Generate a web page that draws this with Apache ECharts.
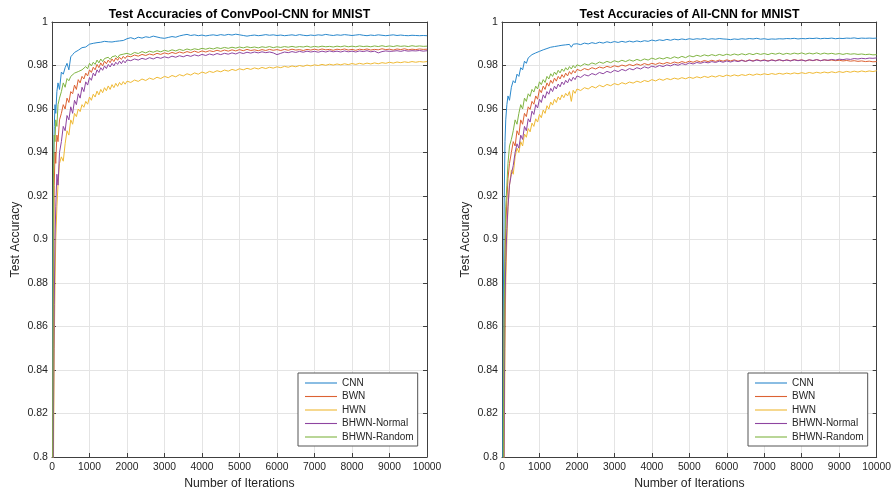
<!DOCTYPE html>
<html>
<head>
<meta charset="utf-8">
<script src="https://cdn.jsdelivr.net/npm/echarts@6/dist/echarts.min.js"></script>
<style>
html,body{margin:0;padding:0;background:#fff;}
#chart{width:894px;height:495px;}
</style>
</head>
<body>
<div id="chart"></div>
<script>
// ---------------- DATA ----------------
const titles = ['Test Accuracies of ConvPool-CNN for MNIST', 'Test Accuracies of All-CNN for MNIST'];
const seriesNames = ['CNN', 'BWN', 'HWN', 'BHWN-Normal', 'BHWN-Random'];
const xAxisName = 'Number of Iterations';
const yAxisName = 'Test Accuracy';
const xMin = 0, xMax = 10000, xStep = 1000;
const yMin = 0.8, yMax = 1, yStep = 0.02;

const iters = [0,20,40,60,80,100,130,160,200,
  250,300,350,400,450,500,550,600,650,700,
  750,800,850,900,950,1000,1050,1100,1150,1200,
  1250,1300,1350,1400,1450,1500,1550,1600,1650,1700,
  1750,1800,1850,1900,1950,2000,
  2100,2200,2300,2400,2500,2600,2700,2800,2900,3000,
  3100,3200,3300,3400,3500,3600,3700,3800,3900,4000,
  4100,4200,4300,4400,4500,4600,4700,4800,4900,5000,
  5100,5200,5300,5400,5500,5600,5700,5800,5900,6000,
  6100,6200,6300,6400,6500,6600,6700,6800,6900,7000,
  7100,7200,7300,7400,7500,7600,7700,7800,7900,8000,
  8100,8200,8300,8400,8500,8600,8700,8800,8900,9000,
  9100,9200,9300,9400,9500,9600,9700,9800,9900,10000];

// ConvPool-CNN
const cpCNN = [.5,.88,.935,.952,.962,.958,.968,.972,.969,
  .977,.976,.979,.981,.978,.984,.985,.986,.9855,.987,
  .9875,.9882,.988,.9885,.9892,.9898,.9893,.9902,.9898,.9905,
  .9899,.9907,.9903,.9911,.9906,.9909,.9914,.9908,.9916,.9911,
  .9918,.9913,.9920,.9915,.9921,.9923,
  .9928,.9922,.9930,.9926,.9932,.9929,.9935,.9931,.9927,.9925,
  .9929,.9933,.9930,.9936,.9940,.9943,.9938,.9941,.9937,.9940,
  .9936,.9939,.9941,.9938,.9942,.9939,.9943,.9940,.9944,.9941,
  .9938,.9935,.9938,.9940,.9937,.9939,.9942,.9939,.9941,.9938,
  .9940,.9937,.9939,.9941,.9938,.9942,.9939,.9937,.9940,.9938,
  .9941,.9939,.9943,.9940,.9938,.9941,.9939,.9942,.9940,.9938,
  .9940,.9942,.9939,.9937,.9940,.9938,.9941,.9939,.9937,.9939,
  .9941,.9938,.9940,.9938,.9937,.9939,.9938,.9937,.9938,.9937];
const cpBWN = [.5,.78,.88,.925,.94,.935,.948,.945,.955,
  .958,.962,.960,.965,.963,.968,.967,.971,.969,.9735,
  .972,.975,.9738,.9765,.9752,.978,.9768,.9792,.978,.9805,
  .979,.9812,.9798,.982,.9808,.9825,.9813,.9830,.9818,.9835,
  .9824,.9838,.9828,.9842,.9832,.9844,
  .9840,.9848,.9843,.9851,.9846,.9853,.9848,.9856,.9851,.9858,
  .9853,.9860,.9855,.9862,.9857,.9864,.9859,.9866,.9860,.9867,
  .9862,.9868,.9864,.9870,.9865,.9871,.9866,.9872,.9867,.9873,
  .9868,.9874,.9869,.9872,.9868,.9873,.9869,.9874,.9870,.9873,
  .9869,.9874,.9870,.9875,.9871,.9873,.9869,.9874,.9871,.9875,
  .9871,.9876,.9872,.9874,.9870,.9875,.9872,.9876,.9871,.9874,
  .9870,.9875,.9872,.9876,.9871,.9874,.9872,.9877,.9873,.9875,
  .9871,.9876,.9873,.9877,.9872,.9875,.9873,.9876,.9874,.9875];
const cpHWN = [.5,.70,.80,.85,.88,.90,.915,.925,.935,
  .938,.936,.944,.950,.948,.955,.953,.958,.9565,.960,
  .9588,.962,.9608,.9635,.9622,.9655,.964,.9668,.9655,.9682,
  .9665,.969,.9675,.9698,.9684,.9706,.9690,.9712,.9698,.9718,
  .9704,.9722,.9710,.9726,.9714,.9728,
  .9722,.9733,.9727,.9738,.9731,.9742,.9736,.9746,.9740,.9750,
  .9744,.9754,.9748,.9758,.9752,.9762,.9756,.9766,.9760,.9770,
  .9764,.9773,.9768,.9776,.9771,.9779,.9774,.9782,.9777,.9785,
  .9780,.9787,.9782,.9789,.9784,.9791,.9786,.9792,.9788,.9794,
  .9790,.9796,.9792,.9798,.9794,.9800,.9796,.9802,.9798,.9803,
  .9800,.9805,.9801,.9806,.9802,.9807,.9803,.9808,.9804,.9809,
  .9805,.9810,.9806,.9811,.9807,.9812,.9808,.9813,.9810,.9815,
  .9811,.9816,.9813,.9817,.9814,.9818,.9815,.9818,.9816,.9818];
const cpNormal = [.5,.70,.82,.87,.90,.915,.93,.925,.94,
  .945,.952,.950,.957,.955,.961,.958,.964,.962,.967,
  .965,.970,.968,.9725,.971,.9745,.9732,.9765,.9752,.978,
  .9768,.979,.9778,.9798,.9786,.9805,.9793,.981,.9798,.9815,
  .9805,.982,.9808,.9823,.9812,.9826,
  .9822,.9830,.9825,.9833,.9828,.9836,.9830,.9838,.9833,.9840,
  .9835,.9843,.9838,.9845,.9840,.9847,.9842,.9849,.9844,.9851,
  .9846,.9853,.9848,.9855,.9850,.9856,.9852,.9858,.9853,.9860,
  .9855,.9861,.9857,.9862,.9858,.9863,.9859,.9862,.9858,.9850,
  .9856,.9862,.9859,.9864,.9860,.9865,.9861,.9866,.9862,.9865,
  .9861,.9866,.9862,.9867,.9863,.9866,.9862,.9867,.9863,.9866,
  .9862,.9867,.9864,.9868,.9863,.9866,.9858,.9864,.9867,.9865,
  .9866,.9868,.9865,.9869,.9866,.9868,.9867,.9869,.9866,.9868];
const cpRandom = [.5,.80,.93,.948,.945,.955,.952,.962,.965,
  .968,.972,.970,.974,.973,.975,.9745,.9765,.976,.9772,
  .9768,.978,.9775,.9795,.9785,.981,.9798,.9815,.9805,.9825,
  .9812,.983,.9818,.9832,.9825,.9838,.9828,.984,.9832,.9845,
  .9835,.9848,.9840,.9852,.9845,.9856,
  .9850,.9860,.9855,.9864,.9858,.9866,.9861,.9868,.9863,.9870,
  .9865,.9872,.9867,.9874,.9869,.9876,.9871,.9877,.9873,.9879,
  .9875,.9880,.9876,.9882,.9878,.9883,.9879,.9884,.9880,.9885,
  .9881,.9886,.9882,.9885,.9881,.9886,.9883,.9887,.9882,.9886,
  .9883,.9887,.9884,.9888,.9884,.9887,.9885,.9889,.9884,.9888,
  .9885,.9889,.9886,.9888,.9885,.9889,.9886,.9890,.9886,.9889,
  .9886,.9890,.9887,.9889,.9886,.9890,.9887,.9891,.9887,.9890,
  .9887,.9891,.9888,.9890,.9887,.9891,.9888,.9890,.9888,.9889];

// All-CNN
const acCNN = [.5,.80,.88,.92,.945,.955,.962,.966,.964,
  .970,.973,.972,.976,.975,.979,.978,.982,.981,.9835,
  .9828,.985,.9842,.9858,.9852,.9865,.9860,.9872,.9866,.9878,
  .9872,.9884,.9878,.9887,.9882,.9890,.9885,.9893,.9887,.9895,
  .9890,.9897,.9884,.9898,.9894,.9900,
  .9896,.9903,.9899,.9905,.9901,.9907,.9903,.9909,.9905,.9910,
  .9906,.9911,.9907,.9912,.9908,.9913,.9909,.9914,.9911,.9917,
  .9913,.9918,.9915,.9920,.9916,.9921,.9918,.9922,.9919,.9923,
  .9920,.9923,.9921,.9924,.9920,.9923,.9921,.9924,.9922,.9921,
  .9919,.9922,.9920,.9923,.9921,.9924,.9922,.9925,.9921,.9923,
  .9920,.9922,.9921,.9923,.9922,.9924,.9923,.9925,.9922,.9924,
  .9923,.9925,.9924,.9926,.9923,.9925,.9924,.9926,.9923,.9925,
  .9924,.9926,.9925,.9927,.9924,.9926,.9925,.9926,.9925,.9926];
const acBWN = [.5,.70,.80,.86,.89,.905,.918,.928,.935,
  .940,.945,.943,.950,.948,.955,.953,.958,.9565,.961,
  .9598,.9635,.9622,.966,.9645,.969,.9675,.9705,.969,.972,
  .9705,.9732,.9718,.9742,.9728,.9750,.9738,.9758,.9745,.9765,
  .9752,.9772,.9760,.9777,.9766,.9782,
  .9776,.9786,.9780,.9790,.9784,.9793,.9788,.9796,.9791,.9799,
  .9794,.9802,.9797,.9805,.9799,.9807,.9801,.9809,.9803,.9810,
  .9805,.9812,.9807,.9814,.9809,.9816,.9811,.9818,.9813,.9820,
  .9815,.9822,.9816,.9823,.9818,.9824,.9819,.9825,.9820,.9826,
  .9821,.9826,.9820,.9825,.9819,.9826,.9821,.9827,.9822,.9826,
  .9821,.9826,.9822,.9827,.9821,.9826,.9822,.9827,.9823,.9826,
  .9821,.9826,.9822,.9827,.9822,.9826,.9823,.9825,.9822,.9824,
  .9821,.9823,.9820,.9822,.9819,.9821,.9818,.9820,.9817,.9818];
const acHWN = [.5,.62,.72,.80,.85,.88,.90,.915,.925,
  .932,.930,.938,.942,.940,.945,.943,.9485,.947,.951,
  .9495,.9535,.952,.9555,.954,.9575,.956,.9595,.958,.9615,
  .960,.9632,.9618,.9645,.963,.9655,.9642,.9665,.9652,.9672,
  .9660,.9680,.9635,.9686,.9672,.9692,
  .9685,.9698,.9692,.9704,.9697,.9709,.9702,.9713,.9707,.9717,
  .9711,.9721,.9715,.9724,.9719,.9728,.9722,.9731,.9726,.9735,
  .9729,.9738,.9732,.9740,.9735,.9742,.9737,.9744,.9739,.9746,
  .9741,.9748,.9743,.9750,.9745,.9752,.9747,.9754,.9749,.9756,
  .9751,.9757,.9752,.9758,.9754,.9760,.9755,.9761,.9757,.9762,
  .9758,.9763,.9759,.9764,.9760,.9765,.9761,.9766,.9762,.9767,
  .9763,.9768,.9764,.9769,.9765,.9770,.9766,.9771,.9767,.9772,
  .9768,.9773,.9769,.9774,.9770,.9775,.9771,.9775,.9772,.9776];
const acNormal = [.5,.65,.75,.82,.87,.89,.905,.915,.925,
  .930,.934,.940,.944,.942,.948,.946,.952,.950,.9555,
  .954,.959,.9575,.962,.9605,.9645,.963,.9665,.965,.968,
  .9668,.9695,.968,.9705,.9692,.9715,.9702,.9724,.9712,.9732,
  .972,.9740,.9728,.9746,.9735,.9752,
  .9745,.9758,.9752,.9763,.9757,.9768,.9762,.9773,.9767,.9778,
  .9772,.9782,.9776,.9786,.9780,.9790,.9784,.9794,.9788,.9797,
  .9792,.9800,.9795,.9803,.9798,.9806,.9801,.9809,.9804,.9812,
  .9807,.9814,.9810,.9816,.9812,.9818,.9814,.9820,.9815,.9821,
  .9816,.9822,.9818,.9823,.9819,.9824,.9820,.9825,.9821,.9824,
  .9820,.9825,.9821,.9826,.9822,.9825,.9821,.9826,.9822,.9825,
  .9821,.9826,.9823,.9827,.9822,.9826,.9824,.9828,.9825,.9829,
  .9827,.9830,.9828,.9832,.9830,.9833,.9831,.9834,.9833,.9835];
const acRandom = [.5,.72,.82,.87,.90,.915,.925,.935,.943,
  .946,.950,.955,.953,.958,.962,.960,.965,.9635,.967,
  .9658,.969,.9678,.9705,.9692,.9725,.9712,.9735,.9722,.975,
  .9738,.9762,.9750,.9770,.9758,.9778,.9766,.9784,.9773,.9790,
  .9779,.9795,.9784,.9800,.9789,.9803,
  .9797,.9808,.9802,.9812,.9806,.9816,.9810,.9819,.9813,.9822,
  .9816,.9824,.9818,.9826,.9820,.9828,.9822,.9830,.9825,.9834,
  .9828,.9835,.9830,.9837,.9832,.9840,.9834,.9842,.9836,.9845,
  .9840,.9847,.9842,.9849,.9844,.9850,.9845,.9851,.9846,.9852,
  .9847,.9853,.9848,.9854,.9849,.9855,.9850,.9856,.9851,.9855,
  .9850,.9856,.9852,.9857,.9851,.9856,.9852,.9857,.9853,.9858,
  .9852,.9857,.9853,.9858,.9852,.9857,.9853,.9856,.9852,.9855,
  .9851,.9855,.9852,.9854,.9851,.9853,.9850,.9852,.9849,.9850];

const panels = [
  [cpCNN, cpBWN, cpHWN, cpNormal, cpRandom],
  [acCNN, acBWN, acHWN, acNormal, acRandom]
];

// ---------------- STYLE ----------------
const colors = ['#2a88cc', '#dc6233', '#efb934', '#8e45a0', '#80b443'];
const FONT = "'Liberation Sans', Arial, Helvetica, sans-serif";
const axisCol = '#404040';
const textCol = '#262626';
const gridCol = '#e4e4e4';
const grids = [
  {left: 52, top: 22, width: 375, height: 435},
  {left: 502, top: 22, width: 375, height: 435}
];
// legend marker: a thin horizontal line (aspect kept inside the item box)
const legendLineIcon = 'path://M0,0 L32,0 L32,1.1 L0,1.1 Z';

const chart = echarts.init(document.getElementById('chart'), null, {renderer: 'canvas'});

const xAxes = [], yAxes = [], series = [], titleArr = [], legends = [];
grids.forEach((g, gi) => {
  xAxes.push({
    type: 'value', gridIndex: gi, min: xMin, max: xMax, interval: xStep,
    name: xAxisName, nameLocation: 'middle', nameGap: 21,
    nameTextStyle: {fontSize: 12.2, color: textCol, fontFamily: FONT},
    axisLine: {onZero: false, lineStyle: {color: axisCol, width: 1}},
    axisTick: {inside: true, length: 4, lineStyle: {color: axisCol}},
    axisLabel: {fontSize: 10.3, color: textCol, fontFamily: FONT, margin: 5,
      formatter: v => String(v)},
    splitLine: {show: true, lineStyle: {color: gridCol, width: 1}}
  });
  yAxes.push({
    type: 'value', gridIndex: gi, min: yMin, max: yMax, interval: yStep,
    name: yAxisName, nameLocation: 'middle', nameGap: 30, nameRotate: 90,
    nameTextStyle: {fontSize: 12.2, color: textCol, fontFamily: FONT},
    axisLine: {onZero: false, lineStyle: {color: axisCol, width: 1}},
    axisTick: {inside: true, length: 4, lineStyle: {color: axisCol}},
    axisLabel: {fontSize: 10.6, color: textCol, fontFamily: FONT, margin: 4},
    splitLine: {show: true, lineStyle: {color: gridCol, width: 1}}
  });
  titleArr.push({
    text: titles[gi], left: g.left + g.width / 2 - 5, top: 4, textAlign: 'center',
    textStyle: {fontSize: 12.3, fontWeight: 'bold', color: '#000', fontFamily: FONT}
  });
  legends.push({
    data: seriesNames.map((n, i) => ({name: n, icon: legendLineIcon, itemStyle: {color: colors[i]}})),
    orient: 'vertical',
    left: g.left + 246, top: 373,
    symbolKeepAspect: true,
    backgroundColor: '#fff', borderColor: '#555', borderWidth: 1, borderRadius: 0,
    padding: [5, 4, 4, 7], itemGap: 3.5, itemWidth: 32, itemHeight: 10,
    lineStyle: {width: 1},
    textStyle: {fontSize: 10, color: textCol, fontFamily: FONT},
    selectedMode: false
  });
});
// box axes (top & right) with inward ticks
grids.forEach((g, gi) => {
  xAxes.push({
    type: 'value', gridIndex: gi, position: 'top', min: xMin, max: xMax, interval: xStep,
    axisLine: {onZero: false, lineStyle: {color: axisCol, width: 1}},
    axisTick: {inside: true, length: 4, lineStyle: {color: axisCol}},
    axisLabel: {show: false}, splitLine: {show: false}
  });
  yAxes.push({
    type: 'value', gridIndex: gi, position: 'right', min: yMin, max: yMax, interval: yStep,
    axisLine: {onZero: false, lineStyle: {color: axisCol, width: 1}},
    axisTick: {inside: true, length: 4, lineStyle: {color: axisCol}},
    axisLabel: {show: false}, splitLine: {show: false}
  });
});

panels.forEach((arrs, gi) => {
  arrs.forEach((vals, si) => {
    series.push({
      type: 'line', name: seriesNames[si],
      xAxisIndex: gi, yAxisIndex: gi,
      data: iters.map((x, i) => [x, vals[i]]),
      symbol: 'none', showSymbol: false, clip: true, animation: false,
      lineStyle: {color: colors[si], width: 1},
      itemStyle: {color: colors[si]},
      z: 2 + si
    });
  });
});

chart.setOption({
  backgroundColor: '#fff',
  animation: false,
  title: titleArr,
  grid: grids,
  legend: legends,
  xAxis: xAxes,
  yAxis: yAxes,
  series: series
});
</script>
</body>
</html>
